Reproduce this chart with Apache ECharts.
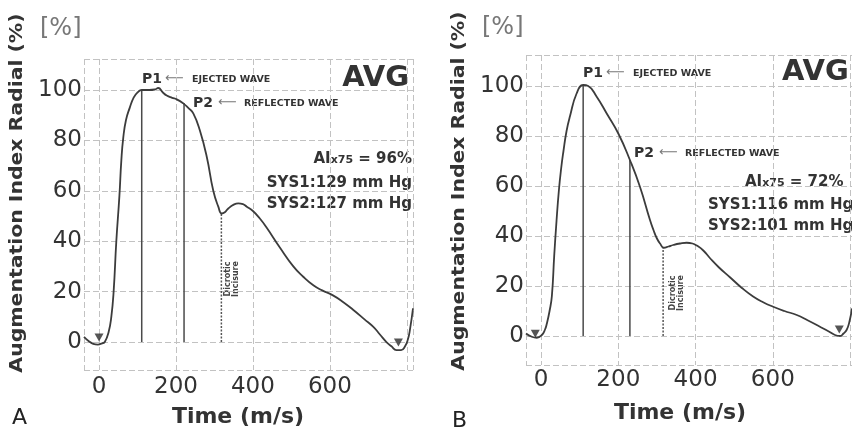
<!DOCTYPE html>
<html><head><meta charset="utf-8">
<script src="https://cdn.jsdelivr.net/npm/echarts@6/dist/echarts.min.js"></script>
<style>html,body{margin:0;padding:0;background:#fff}#c{width:852px;height:432px}</style>
</head><body><div id="c"></div>
<script>
// ---- Panel A data ----
const timeA = [-39,-28,-15,-3,8,15,25,32,38,45,53,58,63,70,80,90,100,111,130,145,154,166,176,190,202,219,232,245,262,280,297,310,319,327,336,350,362,374,384,400,418,435,470,505,530,557,580,608,635,661,690,713,730,747,760,773,785,795,803,808,816];
const valueA = [2,0.5,-0.7,-1,-0.5,0,4,10,20,40,58,72,81,88,93,97,99,100,100,100.2,100.8,99,97.8,96.9,96.3,94.7,92.9,90.7,84,73.5,60,53.7,51,51.5,53,54.5,55,54.7,53.7,52,49,45.5,37.5,30,26,22.5,20.5,18.5,15.8,12.7,9,6,3,0,-1.7,-3.2,-3.2,-1.8,1.2,4.8,13.4];
const p1A = [111, 100];
const p2A = [221, 94.8];
const dicroticA = [318, 51];
const markersA = [[0, 1.8], [778, -0.2]];
const statsA = ['96%', 'SYS1:129 mm Hg', 'SYS2:127 mm Hg'];

// ---- Panel B data ----
const timeB = [-39,-24,-11,2,10,15,22,28,34,40,46,52,58,66,75,92,109,122,144,170,200,230,256,282,291,300,308,318,330,342,360,377,392,403,420,437,460,489,520,549,575,601,630,662,690,722,745,761,774,783,791,798,805];
const valueB = [1,-0.3,-0.7,0.4,2.5,5,10,16,32,46,58,67,74,82,88,97,100.4,100,95.7,89,81,70.4,59.7,46.4,42.4,39,37,35.3,35.8,36.4,37,37.3,37,36.2,34.2,31.2,27.5,23.5,19.2,15.8,13.5,11.7,10,8.4,6.3,3.7,1.8,0.4,0,1,2.4,5.5,11];
const p1B = [109, 100.4];
const p2B = [230, 70.4];
const dicroticB = [316, 35.5];
const markersB = [[-15, 0.9], [772, 2.6]];
const statsB = ['72%', 'SYS1:116 mm Hg', 'SYS2:101 mm Hg'];

// ---- ticks ----
const xTickLabels = [0, 200, 400, 600];
const xGridValues = [0, 200, 400, 600, 800];
const yTickLabels = [0, 20, 40, 60, 80, 100];

const FONT = 'DejaVu Sans';
const GRID_COLOR = '#c2c2c2';
const CURVE = '#3c3c3c';

function zip(a, b) { return a.map((t, i) => [t, b[i]]); }

function xAxis(gridIndex, min, max, margin) {
  return {
    type: 'value', gridIndex, min, max,
    axisLine: { show: false },
    axisTick: { show: false, customValues: [min].concat(xGridValues.filter(v => v <= max), [max]) },
    axisLabel: { customValues: xTickLabels, fontSize: 23, color: '#333', fontFamily: FONT, margin },
    splitLine: { show: true, lineStyle: { color: GRID_COLOR, type: [6, 3], width: 1 } }
  };
}
function yAxis(gridIndex, min, max) {
  return {
    type: 'value', gridIndex, min, max,
    axisLine: { show: false },
    axisTick: { show: false, customValues: [min].concat(yTickLabels, [max]) },
    axisLabel: { customValues: yTickLabels, fontSize: 23, color: '#333', fontFamily: FONT, margin: 2 },
    splitLine: { show: true, lineStyle: { color: GRID_COLOR, type: [6, 3], width: 1 } }
  };
}

function panelSeries(idx, t, v, p1, p2, dic, markers) {
  const base = { xAxisIndex: idx, yAxisIndex: idx, silent: true, animation: false };
  return [
    Object.assign({ type: 'line', data: [[p1[0], 0], p1], showSymbol: false,
      lineStyle: { color: '#4a4a4a', width: 1.5 }, z: 2 }, base),
    Object.assign({ type: 'line', data: [[p2[0], 0], p2], showSymbol: false,
      lineStyle: { color: '#4a4a4a', width: 1.5 }, z: 2 }, base),
    Object.assign({ type: 'line', data: [[dic[0], 0], dic], showSymbol: false,
      lineStyle: { color: '#555', width: 1.5, type: [2, 1.5] }, z: 2 }, base),
    Object.assign({ type: 'line', data: zip(t, v), showSymbol: false, smooth: 0.5,
      lineStyle: { color: CURVE, width: 1.8 }, z: 3 }, base),
    Object.assign({ type: 'scatter', data: markers, symbol: 'triangle', symbolRotate: 180,
      symbolSize: [9, 8], itemStyle: { color: '#2a2a2a' }, z: 4 }, base)
  ];
}

function txt(x, y, text, font, fill, align, extra) {
  return Object.assign({ type: 'text', x, y, silent: true,
    style: { text, font, fill: fill || '#333', align: align || 'left', verticalAlign: 'middle' } }, extra || {});
}

function panelGraphics(o) {
  const g = [];
  g.push(txt(o.pct[0], o.pct[1], '[%]', 'normal 24px ' + FONT, '#777'));
  g.push(txt(o.ytitle[0], o.ytitle[1], 'Augmentation Index Radial (%)', 'bold 17px ' + FONT, '#333', 'center',
    { rotation: Math.PI / 2, scaleX: 1.2 }));
  g.push(txt(o.xtitle[0], o.xtitle[1], 'Time (m/s)', 'bold 22px ' + FONT, '#333', 'center'));
  g.push(txt(o.letter[0], o.letter[1], o.letterText, 'normal 22px ' + FONT, '#222'));
  g.push(txt(o.avg[0], o.avg[1], 'AVG', 'bold 29px ' + FONT, '#333', o.avgAlign));
  g.push(txt(o.p1[0], o.p1[1], 'P1', 'bold 14px ' + FONT, '#333'));
  g.push(txt(o.p1[0] + 23, o.p1[1], '\u27F5', 'normal 13px ' + FONT, '#777'));
  g.push(txt(o.p1[0] + 50, o.p1[1] + 1, 'EJECTED WAVE', 'bold 9.5px ' + FONT, '#333'));
  g.push(txt(o.p2[0], o.p2[1], 'P2', 'bold 14px ' + FONT, '#333'));
  g.push(txt(o.p2[0] + 25, o.p2[1], '\u27F5', 'normal 13px ' + FONT, '#777'));
  g.push(txt(o.p2[0] + 51, o.p2[1] + 1, 'REFLECTED WAVE', 'bold 9.5px ' + FONT, '#333'));
  g.push({ type: 'text', x: o.ai[0], y: o.ai[1], silent: true,
    style: { text: '{a|AI}{b|x75}{a| = ' + o.stats[0] + '}', align: o.statAlign, verticalAlign: 'middle',
      rich: { a: { font: 'bold 15px ' + FONT, fill: '#333' }, b: { font: 'bold 11px ' + FONT, fill: '#333', padding: [3, 0, 0, 0] } } } });
  g.push(txt(o.s1[0], o.s1[1], o.stats[1], 'bold 15px ' + FONT, '#333', o.statAlign));
  g.push(txt(o.s2[0], o.s2[1], o.stats[2], 'bold 15px ' + FONT, '#333', o.statAlign));
  g.push(txt(o.dic[0], o.dic[1], 'Dicrotic\nIncisure', 'bold 8px ' + FONT, '#444', 'center',
    { rotation: Math.PI / 2 }));
  return g;
}

const graphics = panelGraphics({
  pct: [40, 29], ytitle: [18, 193], xtitle: [238, 417], letter: [12, 418], letterText: 'A',
  avg: [409, 78], avgAlign: 'right', p1: [142, 79], p2: [193, 103],
  ai: [412, 159], s1: [412, 183], s2: [412, 204], statAlign: 'right', stats: statsA, dic: [232, 279]
}).concat(panelGraphics({
  pct: [482, 28], ytitle: [460, 191], xtitle: [680, 413], letter: [452, 421], letterText: 'B',
  avg: [782, 72], avgAlign: 'left', p1: [583, 73], p2: [634, 153],
  ai: [745, 182], s1: [708, 205], s2: [708, 226], statAlign: 'left', stats: statsB, dic: [677, 293]
}));

const chart = echarts.init(document.getElementById('c'), null, { renderer: 'canvas' });
chart.setOption({
  animation: false,
  backgroundColor: '#fff',
  grid: [
    { left: 84, top: 59, width: 329, height: 311, show: false },
    { left: 526, top: 55, width: 326, height: 310, show: false }
  ],
  xAxis: [xAxis(0, -39, 816, 6), xAxis(1, -39, 805, 4)],
  yAxis: [yAxis(0, -11.1, 112.3), yAxis(1, -11.6, 112.4)],
  series: panelSeries(0, timeA, valueA, p1A, p2A, dicroticA, markersA)
    .concat(panelSeries(1, timeB, valueB, p1B, p2B, dicroticB, markersB)),
  graphic: graphics
});
</script>
</body></html>
